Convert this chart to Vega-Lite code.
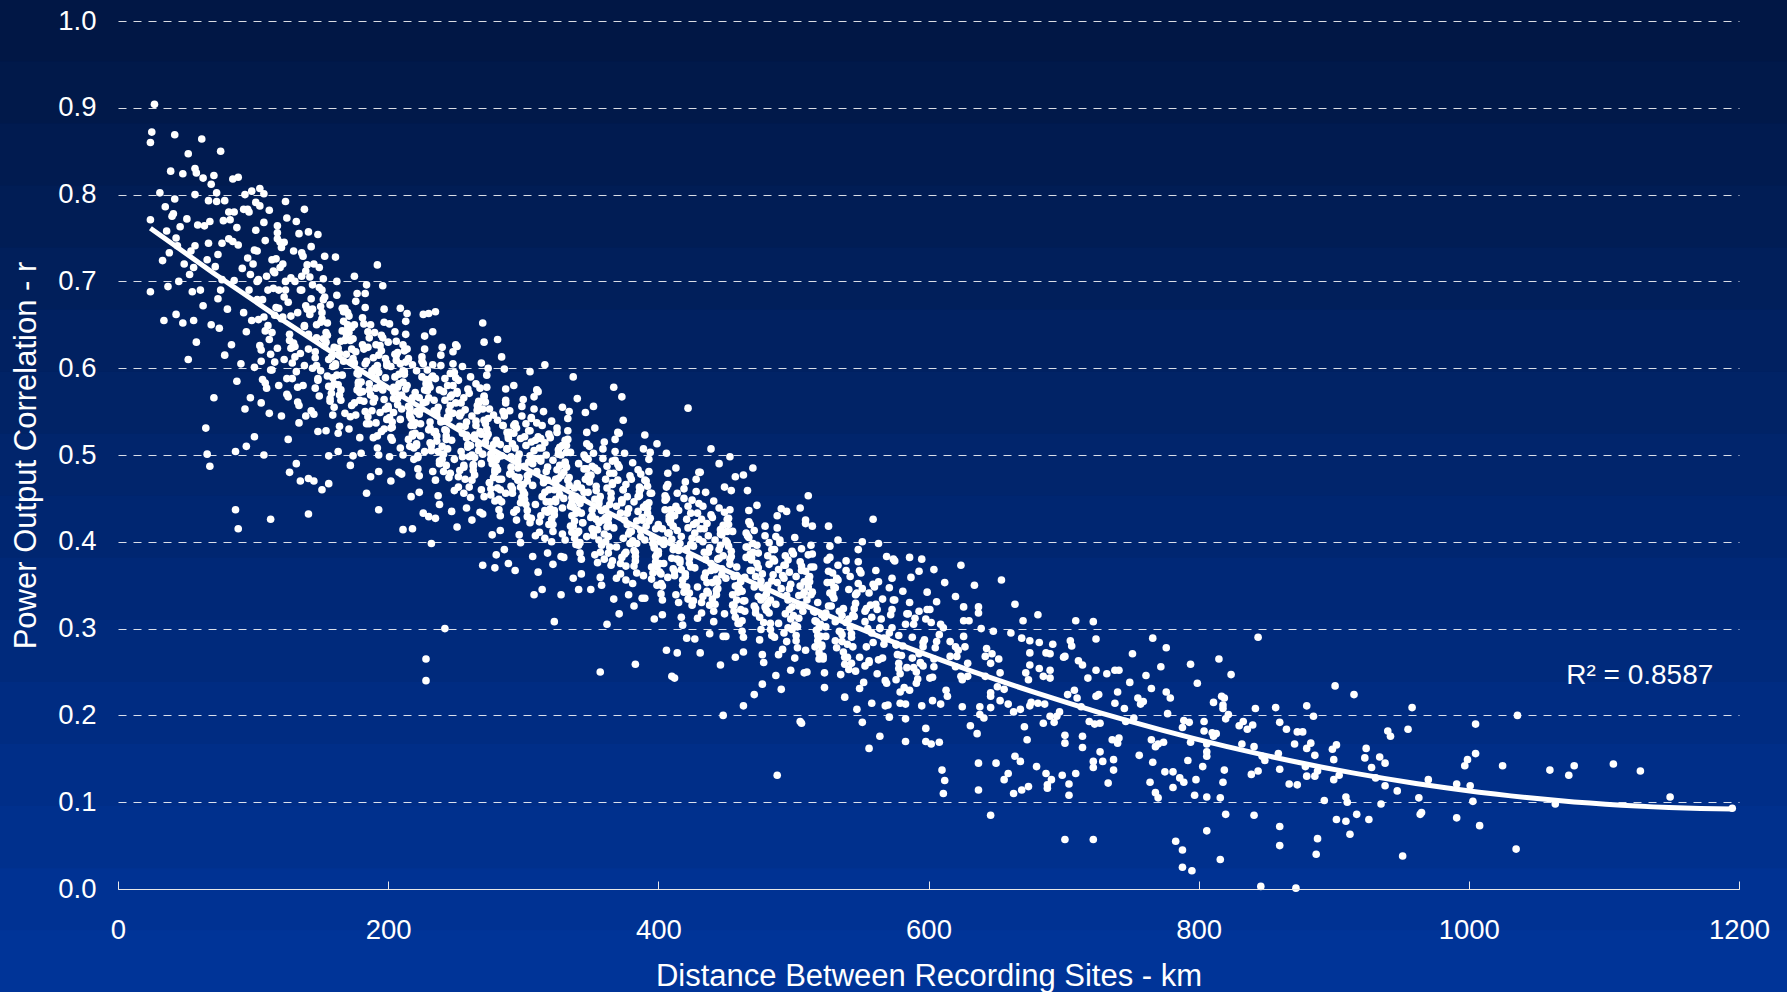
{
"$schema": "https://vega.github.io/schema/vega-lite/v6.json",
"width": 1621,
"height": 868,
"autosize": {"type": "none"},
"padding": {"left": 118, "top": 21, "right": 48, "bottom": 103},
"background": "#00276f",
"config": {"view": {"stroke": null}, "font": "Liberation Sans"},
"data": {"values": [
{"km":24,"r":0.86},{"km":25,"r":0.872},{"km":27,"r":0.904},{"km":24,"r":0.771},{"km":24,"r":0.688},
{"km":31,"r":0.802},{"km":33,"r":0.724},{"km":35,"r":0.786},{"km":36,"r":0.758},{"km":37,"r":0.694},{"km":38,"r":0.733},{"km":39,"r":0.827},{"km":34,"r":0.655},
{"km":42,"r":0.869},{"km":42,"r":0.795},{"km":41,"r":0.778},{"km":40,"r":0.775},{"km":43,"r":0.75},{"km":44,"r":0.741},{"km":46,"r":0.763},{"km":48,"r":0.824},{"km":49,"r":0.72},{"km":43,"r":0.662},{"km":48,"r":0.652},{"km":45,"r":0.7},
{"km":52,"r":0.847},{"km":57,"r":0.83},{"km":58,"r":0.825},{"km":57,"r":0.8},{"km":57,"r":0.741},{"km":56,"r":0.655},{"km":58,"r":0.63},{"km":53,"r":0.708},{"km":55,"r":0.688},{"km":51,"r":0.772},{"km":54,"r":0.735},{"km":59,"r":0.765},{"km":52,"r":0.61},{"km":56,"r":0.716},
{"km":62,"r":0.864},{"km":63,"r":0.819},{"km":64,"r":0.764},{"km":67,"r":0.793},{"km":68,"r":0.769},{"km":69,"r":0.812},{"km":67,"r":0.744},{"km":65,"r":0.531},{"km":66,"r":0.501},{"km":68,"r":0.487},{"km":61,"r":0.69},{"km":63,"r":0.672},{"km":66,"r":0.725},{"km":69,"r":0.65},
{"km":71,"r":0.822},{"km":73,"r":0.802},{"km":73,"r":0.792},{"km":76,"r":0.85},{"km":77,"r":0.744},{"km":79,"r":0.793},{"km":78,"r":0.77},{"km":72,"r":0.717},{"km":74,"r":0.68},{"km":75,"r":0.646},{"km":77,"r":0.702},{"km":79,"r":0.615},{"km":71,"r":0.566},{"km":76,"r":0.69},{"km":74,"r":0.731},
{"km":82,"r":0.749},{"km":82,"r":0.78},{"km":83,"r":0.771},{"km":85,"r":0.746},{"km":85,"r":0.818},{"km":86,"r":0.78},{"km":88,"r":0.762},{"km":89,"r":0.82},{"km":89,"r":0.742},{"km":87,"r":0.504},{"km":87,"r":0.437},{"km":89,"r":0.415},{"km":81,"r":0.668},{"km":84,"r":0.627},{"km":86,"r":0.701},{"km":88,"r":0.585},
{"km":93,"r":0.783},{"km":94,"r":0.8},{"km":96,"r":0.783},{"km":97,"r":0.78},{"km":99,"r":0.804},{"km":95,"r":0.51},{"km":92,"r":0.715},{"km":93,"r":0.664},{"km":95,"r":0.642},{"km":97,"r":0.69},{"km":98,"r":0.566},{"km":91,"r":0.605},{"km":96,"r":0.727},{"km":99,"r":0.655},{"km":94,"r":0.553},{"km":98,"r":0.708},
{"km":102,"r":0.791},{"km":105,"r":0.787},{"km":105,"r":0.807},{"km":108,"r":0.801},{"km":108,"r":0.768},{"km":109,"r":0.747},{"km":101,"r":0.521},{"km":108,"r":0.5},{"km":103,"r":0.7},{"km":104,"r":0.656},{"km":106,"r":0.621},{"km":107,"r":0.679},{"km":101,"r":0.601},{"km":109,"r":0.583},{"km":103,"r":0.735},{"km":106,"r":0.56},{"km":110,"r":0.706},
{"km":112,"r":0.782},{"km":113,"r":0.426},{"km":118,"r":0.764},{"km":118,"r":0.756},{"km":120,"r":0.745},{"km":111,"r":0.69},{"km":114,"r":0.641},{"km":115,"r":0.712},{"km":116,"r":0.607},{"km":117,"r":0.67},{"km":119,"r":0.58},{"km":112,"r":0.548},{"km":114,"r":0.725},{"km":116,"r":0.661},{"km":118,"r":0.623},{"km":113,"r":0.598},{"km":119,"r":0.69},
{"km":124,"r":0.792},{"km":125,"r":0.773},{"km":122,"r":0.72},{"km":127,"r":0.48},{"km":128,"r":0.704},{"km":121,"r":0.657},{"km":123,"r":0.61},{"km":126,"r":0.676},{"km":127,"r":0.632},{"km":129,"r":0.588},{"km":121,"r":0.545},{"km":124,"r":0.69},{"km":125,"r":0.57},{"km":128,"r":0.66},{"km":130,"r":0.735},{"km":126,"r":0.518},{"km":123,"r":0.745},{"km":129,"r":0.624},
{"km":132,"r":0.769},{"km":134,"r":0.755},{"km":134,"r":0.537},{"km":132,"r":0.49},{"km":131,"r":0.7},{"km":133,"r":0.664},{"km":135,"r":0.617},{"km":136,"r":0.69},{"km":137,"r":0.58},{"km":138,"r":0.648},{"km":139,"r":0.712},{"km":131,"r":0.625},{"km":133,"r":0.561},{"km":136,"r":0.733},{"km":138,"r":0.603},{"km":140,"r":0.668},{"km":135,"r":0.47},{"km":139,"r":0.545},{"km":138,"r":0.783},
{"km":141,"r":0.432},{"km":141,"r":0.473},{"km":145,"r":0.47},{"km":142,"r":0.705},{"km":143,"r":0.74},{"km":144,"r":0.668},{"km":146,"r":0.612},{"km":147,"r":0.65},{"km":148,"r":0.588},{"km":149,"r":0.693},{"km":141,"r":0.622},{"km":143,"r":0.551},{"km":145,"r":0.72},{"km":146,"r":0.577},{"km":147,"r":0.635},{"km":148,"r":0.527},{"km":150,"r":0.671},{"km":144,"r":0.6},{"km":149,"r":0.716},{"km":141,"r":0.757},{"km":148,"r":0.754},
{"km":152,"r":0.634},{"km":158,"r":0.578},{"km":151,"r":0.69},{"km":156,"r":0.61},{"km":153,"r":0.729},{"km":159,"r":0.546},{"km":155,"r":0.652},{"km":150,"r":0.597},{"km":157,"r":0.673},{"km":154,"r":0.528},{"km":160,"r":0.624},{"km":152,"r":0.703},{"km":157,"r":0.562},{"km":151,"r":0.657},{"km":159,"r":0.589},{"km":155,"r":0.638},{"km":156,"r":0.499},{"km":153,"r":0.682},{"km":158,"r":0.571},{"km":154,"r":0.63},{"km":151,"r":0.46},{"km":156,"r":0.467},
{"km":161,"r":0.605},{"km":167,"r":0.665},{"km":163,"r":0.525},{"km":169,"r":0.635},{"km":165,"r":0.575},{"km":162,"r":0.7},{"km":168,"r":0.548},{"km":164,"r":0.617},{"km":170,"r":0.65},{"km":166,"r":0.592},{"km":161,"r":0.728},{"km":163,"r":0.504},{"km":168,"r":0.632},{"km":165,"r":0.563},{"km":162,"r":0.684},{"km":167,"r":0.608},{"km":169,"r":0.64},{"km":164,"r":0.533},{"km":166,"r":0.669},{"km":160,"r":0.582},{"km":163,"r":0.623},
{"km":172,"r":0.632},{"km":178,"r":0.584},{"km":175,"r":0.606},{"km":171,"r":0.53},{"km":177,"r":0.686},{"km":173,"r":0.647},{"km":179,"r":0.563},{"km":174,"r":0.499},{"km":176,"r":0.619},{"km":170,"r":0.664},{"km":178,"r":0.593},{"km":172,"r":0.544},{"km":175,"r":0.706},{"km":177,"r":0.575},{"km":171,"r":0.641},{"km":179,"r":0.52},{"km":174,"r":0.611},{"km":173,"r":0.557},{"km":176,"r":0.677},{"km":178,"r":0.58},{"km":172,"r":0.488},{"km":175,"r":0.65},
{"km":183,"r":0.605},{"km":188,"r":0.551},{"km":181,"r":0.658},{"km":186,"r":0.582},{"km":184,"r":0.696},{"km":189,"r":0.52},{"km":182,"r":0.622},{"km":187,"r":0.569},{"km":185,"r":0.642},{"km":180,"r":0.502},{"km":188,"r":0.594},{"km":183,"r":0.67},{"km":186,"r":0.536},{"km":181,"r":0.627},{"km":189,"r":0.561},{"km":184,"r":0.608},{"km":187,"r":0.475},{"km":182,"r":0.651},{"km":185,"r":0.544},{"km":190,"r":0.6},{"km":183,"r":0.686},{"km":186,"r":0.575},{"km":184,"r":0.456},{"km":193,"r":0.437},{"km":192,"r":0.719},
{"km":191,"r":0.577},{"km":196,"r":0.635},{"km":193,"r":0.5},{"km":199,"r":0.606},{"km":194,"r":0.549},{"km":197,"r":0.668},{"km":192,"r":0.522},{"km":198,"r":0.589},{"km":195,"r":0.62},{"km":190,"r":0.565},{"km":196,"r":0.695},{"km":193,"r":0.481},{"km":199,"r":0.603},{"km":191,"r":0.537},{"km":197,"r":0.653},{"km":194,"r":0.58},{"km":198,"r":0.611},{"km":192,"r":0.508},{"km":195,"r":0.638},{"km":200,"r":0.556},{"km":193,"r":0.595},{"km":197,"r":0.53},{"km":191,"r":0.627},
{"km":202,"r":0.602},{"km":207,"r":0.558},{"km":204,"r":0.578},{"km":209,"r":0.508},{"km":201,"r":0.651},{"km":206,"r":0.615},{"km":203,"r":0.538},{"km":208,"r":0.48},{"km":205,"r":0.59},{"km":200,"r":0.63},{"km":207,"r":0.565},{"km":202,"r":0.52},{"km":209,"r":0.669},{"km":204,"r":0.549},{"km":206,"r":0.609},{"km":201,"r":0.498},{"km":208,"r":0.582},{"km":203,"r":0.532},{"km":205,"r":0.642},{"km":210,"r":0.553},{"km":202,"r":0.47},{"km":207,"r":0.618},{"km":204,"r":0.573},{"km":209,"r":0.541},
{"km":213,"r":0.576},{"km":218,"r":0.524},{"km":211,"r":0.627},{"km":216,"r":0.554},{"km":214,"r":0.663},{"km":219,"r":0.495},{"km":212,"r":0.593},{"km":217,"r":0.542},{"km":215,"r":0.611},{"km":210,"r":0.478},{"km":218,"r":0.566},{"km":213,"r":0.639},{"km":216,"r":0.51},{"km":211,"r":0.597},{"km":219,"r":0.534},{"km":214,"r":0.58},{"km":217,"r":0.452},{"km":212,"r":0.62},{"km":215,"r":0.518},{"km":220,"r":0.572},{"km":213,"r":0.654},{"km":216,"r":0.548},{"km":211,"r":0.5},{"km":218,"r":0.604},{"km":211,"r":0.414},{"km":218,"r":0.415},
{"km":221,"r":0.55},{"km":226,"r":0.605},{"km":223,"r":0.476},{"km":229,"r":0.577},{"km":224,"r":0.522},{"km":227,"r":0.637},{"km":222,"r":0.497},{"km":228,"r":0.561},{"km":225,"r":0.59},{"km":220,"r":0.537},{"km":226,"r":0.662},{"km":223,"r":0.457},{"km":229,"r":0.574},{"km":221,"r":0.511},{"km":227,"r":0.622},{"km":224,"r":0.552},{"km":228,"r":0.582},{"km":222,"r":0.484},{"km":225,"r":0.608},{"km":230,"r":0.529},{"km":223,"r":0.566},{"km":227,"r":0.504},{"km":221,"r":0.597},{"km":226,"r":0.433},{"km":228,"r":0.265},{"km":228,"r":0.24},{"km":230,"r":0.429},{"km":232,"r":0.398},{"km":230,"r":0.663},
{"km":231,"r":0.514},{"km":236,"r":0.546},{"km":233,"r":0.591},{"km":238,"r":0.443},{"km":234,"r":0.526},{"km":239,"r":0.615},{"km":232,"r":0.505},{"km":237,"r":0.555},{"km":235,"r":0.471},{"km":230,"r":0.582},{"km":236,"r":0.522},{"km":233,"r":0.642},{"km":238,"r":0.493},{"km":231,"r":0.538},{"km":239,"r":0.603},{"km":234,"r":0.563},{"km":237,"r":0.453},{"km":232,"r":0.511},{"km":235,"r":0.588},{"km":240,"r":0.624},{"km":233,"r":0.481},{"km":236,"r":0.551},{"km":231,"r":0.531},{"km":238,"r":0.575},{"km":235,"r":0.665},{"km":235,"r":0.427},
{"km":241,"r":0.573},{"km":246,"r":0.479},{"km":243,"r":0.522},{"km":248,"r":0.619},{"km":244,"r":0.544},{"km":249,"r":0.495},{"km":242,"r":0.588},{"km":247,"r":0.435},{"km":245,"r":0.551},{"km":240,"r":0.51},{"km":246,"r":0.567},{"km":243,"r":0.488},{"km":248,"r":0.605},{"km":241,"r":0.539},{"km":249,"r":0.459},{"km":244,"r":0.58},{"km":247,"r":0.517},{"km":242,"r":0.563},{"km":245,"r":0.474},{"km":250,"r":0.627},{"km":243,"r":0.528},{"km":246,"r":0.594},{"km":241,"r":0.501},{"km":248,"r":0.548},{"km":242,"r":0.3},
{"km":251,"r":0.417},{"km":256,"r":0.566},{"km":253,"r":0.482},{"km":258,"r":0.538},{"km":254,"r":0.504},{"km":259,"r":0.576},{"km":252,"r":0.463},{"km":257,"r":0.552},{"km":255,"r":0.525},{"km":250,"r":0.589},{"km":256,"r":0.488},{"km":253,"r":0.545},{"km":258,"r":0.439},{"km":251,"r":0.625},{"km":259,"r":0.512},{"km":254,"r":0.56},{"km":257,"r":0.533},{"km":252,"r":0.475},{"km":255,"r":0.602},{"km":260,"r":0.498},{"km":253,"r":0.548},{"km":256,"r":0.456},{"km":251,"r":0.573},{"km":258,"r":0.523},
{"km":262,"r":0.545},{"km":267,"r":0.505},{"km":264,"r":0.523},{"km":269,"r":0.46},{"km":261,"r":0.59},{"km":266,"r":0.557},{"km":263,"r":0.487},{"km":268,"r":0.434},{"km":265,"r":0.534},{"km":260,"r":0.571},{"km":267,"r":0.512},{"km":262,"r":0.471},{"km":269,"r":0.606},{"km":264,"r":0.497},{"km":266,"r":0.552},{"km":261,"r":0.451},{"km":268,"r":0.527},{"km":263,"r":0.482},{"km":265,"r":0.582},{"km":270,"r":0.501},{"km":262,"r":0.425},{"km":267,"r":0.56},{"km":264,"r":0.519},{"km":269,"r":0.49},{"km":270,"r":0.652},{"km":271,"r":0.63},{"km":270,"r":0.373},
{"km":273,"r":0.521},{"km":278,"r":0.474},{"km":271,"r":0.567},{"km":276,"r":0.501},{"km":274,"r":0.6},{"km":279,"r":0.447},{"km":272,"r":0.536},{"km":277,"r":0.49},{"km":275,"r":0.553},{"km":270,"r":0.432},{"km":278,"r":0.512},{"km":273,"r":0.578},{"km":276,"r":0.461},{"km":271,"r":0.54},{"km":279,"r":0.483},{"km":274,"r":0.524},{"km":277,"r":0.408},{"km":272,"r":0.561},{"km":275,"r":0.468},{"km":280,"r":0.517},{"km":273,"r":0.592},{"km":276,"r":0.495},{"km":271,"r":0.452},{"km":278,"r":0.546},{"km":279,"r":0.37},{"km":280,"r":0.385},
{"km":281,"r":0.497},{"km":286,"r":0.547},{"km":283,"r":0.43},{"km":289,"r":0.522},{"km":284,"r":0.472},{"km":287,"r":0.576},{"km":282,"r":0.449},{"km":288,"r":0.507},{"km":285,"r":0.534},{"km":280,"r":0.486},{"km":286,"r":0.599},{"km":283,"r":0.413},{"km":289,"r":0.519},{"km":281,"r":0.462},{"km":287,"r":0.563},{"km":284,"r":0.499},{"km":288,"r":0.526},{"km":282,"r":0.437},{"km":285,"r":0.55},{"km":290,"r":0.478},{"km":283,"r":0.512},{"km":287,"r":0.456},{"km":281,"r":0.54},{"km":286,"r":0.391},{"km":281,"r":0.633},{"km":284,"r":0.613},{"km":289,"r":0.375},
{"km":291,"r":0.464},{"km":296,"r":0.493},{"km":293,"r":0.534},{"km":298,"r":0.399},{"km":294,"r":0.475},{"km":299,"r":0.556},{"km":292,"r":0.456},{"km":297,"r":0.501},{"km":295,"r":0.425},{"km":290,"r":0.526},{"km":296,"r":0.471},{"km":293,"r":0.58},{"km":298,"r":0.445},{"km":291,"r":0.486},{"km":299,"r":0.545},{"km":294,"r":0.508},{"km":297,"r":0.408},{"km":292,"r":0.461},{"km":295,"r":0.531},{"km":300,"r":0.564},{"km":293,"r":0.434},{"km":296,"r":0.497},{"km":291,"r":0.479},{"km":298,"r":0.519},{"km":294,"r":0.367},
{"km":301,"r":0.521},{"km":306,"r":0.427},{"km":303,"r":0.47},{"km":308,"r":0.567},{"km":304,"r":0.492},{"km":309,"r":0.443},{"km":302,"r":0.536},{"km":307,"r":0.383},{"km":305,"r":0.499},{"km":300,"r":0.458},{"km":306,"r":0.515},{"km":303,"r":0.436},{"km":308,"r":0.553},{"km":301,"r":0.487},{"km":309,"r":0.407},{"km":304,"r":0.528},{"km":307,"r":0.465},{"km":302,"r":0.511},{"km":305,"r":0.422},{"km":310,"r":0.575},{"km":303,"r":0.476},{"km":306,"r":0.542},{"km":301,"r":0.449},{"km":308,"r":0.496},{"km":305,"r":0.596},{"km":308,"r":0.339},
{"km":311,"r":0.365},{"km":316,"r":0.514},{"km":313,"r":0.43},{"km":318,"r":0.486},{"km":314,"r":0.452},{"km":319,"r":0.524},{"km":312,"r":0.411},{"km":317,"r":0.5},{"km":315,"r":0.473},{"km":310,"r":0.537},{"km":316,"r":0.436},{"km":313,"r":0.493},{"km":318,"r":0.387},{"km":311,"r":0.573},{"km":319,"r":0.46},{"km":314,"r":0.508},{"km":317,"r":0.481},{"km":312,"r":0.423},{"km":315,"r":0.55},{"km":320,"r":0.446},{"km":313,"r":0.496},{"km":316,"r":0.404},{"km":311,"r":0.521},{"km":318,"r":0.471},{"km":316,"r":0.604},{"km":314,"r":0.345},
{"km":322,"r":0.494},{"km":327,"r":0.454},{"km":324,"r":0.472},{"km":329,"r":0.409},{"km":321,"r":0.539},{"km":326,"r":0.506},{"km":323,"r":0.436},{"km":328,"r":0.383},{"km":325,"r":0.483},{"km":320,"r":0.52},{"km":327,"r":0.461},{"km":322,"r":0.42},{"km":329,"r":0.555},{"km":324,"r":0.446},{"km":326,"r":0.501},{"km":321,"r":0.4},{"km":328,"r":0.476},{"km":323,"r":0.431},{"km":325,"r":0.531},{"km":330,"r":0.45},{"km":322,"r":0.374},{"km":327,"r":0.509},{"km":324,"r":0.468},{"km":329,"r":0.439},{"km":323,"r":0.308},{"km":328,"r":0.339},
{"km":333,"r":0.471},{"km":338,"r":0.424},{"km":331,"r":0.517},{"km":336,"r":0.451},{"km":334,"r":0.55},{"km":339,"r":0.397},{"km":332,"r":0.486},{"km":337,"r":0.44},{"km":335,"r":0.503},{"km":330,"r":0.382},{"km":338,"r":0.462},{"km":333,"r":0.528},{"km":336,"r":0.411},{"km":331,"r":0.49},{"km":339,"r":0.433},{"km":334,"r":0.474},{"km":337,"r":0.358},{"km":332,"r":0.511},{"km":335,"r":0.418},{"km":340,"r":0.467},{"km":333,"r":0.542},{"km":336,"r":0.445},{"km":331,"r":0.402},{"km":337,"r":0.59},{"km":340,"r":0.565},{"km":341,"r":0.345},
{"km":341,"r":0.447},{"km":346,"r":0.497},{"km":343,"r":0.38},{"km":349,"r":0.472},{"km":344,"r":0.422},{"km":347,"r":0.526},{"km":342,"r":0.399},{"km":348,"r":0.457},{"km":345,"r":0.484},{"km":340,"r":0.436},{"km":346,"r":0.549},{"km":343,"r":0.363},{"km":349,"r":0.469},{"km":341,"r":0.412},{"km":347,"r":0.513},{"km":344,"r":0.449},{"km":348,"r":0.476},{"km":342,"r":0.387},{"km":345,"r":0.5},{"km":350,"r":0.428},{"km":343,"r":0.462},{"km":347,"r":0.406},{"km":341,"r":0.49},{"km":350,"r":0.345},
{"km":351,"r":0.415},{"km":356,"r":0.444},{"km":353,"r":0.485},{"km":358,"r":0.35},{"km":354,"r":0.426},{"km":359,"r":0.507},{"km":352,"r":0.407},{"km":357,"r":0.452},{"km":355,"r":0.376},{"km":350,"r":0.477},{"km":356,"r":0.422},{"km":353,"r":0.531},{"km":358,"r":0.396},{"km":351,"r":0.437},{"km":359,"r":0.496},{"km":354,"r":0.459},{"km":357,"r":0.359},{"km":352,"r":0.412},{"km":355,"r":0.482},{"km":360,"r":0.515},{"km":353,"r":0.385},{"km":356,"r":0.448},{"km":351,"r":0.43},{"km":352,"r":0.556},{"km":357,"r":0.25},
{"km":361,"r":0.472},{"km":366,"r":0.378},{"km":363,"r":0.421},{"km":368,"r":0.518},{"km":364,"r":0.443},{"km":369,"r":0.394},{"km":362,"r":0.487},{"km":367,"r":0.334},{"km":365,"r":0.45},{"km":360,"r":0.409},{"km":366,"r":0.466},{"km":363,"r":0.387},{"km":368,"r":0.504},{"km":361,"r":0.438},{"km":369,"r":0.358},{"km":364,"r":0.479},{"km":367,"r":0.416},{"km":362,"r":0.462},{"km":365,"r":0.373},{"km":370,"r":0.526},{"km":363,"r":0.427},{"km":366,"r":0.493},{"km":361,"r":0.4},{"km":367,"r":0.578},{"km":362,"r":0.305},
{"km":371,"r":0.317},{"km":376,"r":0.466},{"km":373,"r":0.382},{"km":378,"r":0.438},{"km":374,"r":0.404},{"km":379,"r":0.476},{"km":372,"r":0.363},{"km":377,"r":0.452},{"km":375,"r":0.425},{"km":370,"r":0.489},{"km":376,"r":0.388},{"km":373,"r":0.445},{"km":378,"r":0.339},{"km":371,"r":0.525},{"km":379,"r":0.412},{"km":374,"r":0.46},{"km":377,"r":0.433},{"km":372,"r":0.375},{"km":375,"r":0.502},{"km":380,"r":0.398},{"km":373,"r":0.448},{"km":376,"r":0.356},{"km":373,"r":0.567},{"km":374,"r":0.54},
{"km":382,"r":0.446},{"km":387,"r":0.406},{"km":384,"r":0.424},{"km":389,"r":0.361},{"km":381,"r":0.491},{"km":386,"r":0.458},{"km":383,"r":0.388},{"km":388,"r":0.335},{"km":385,"r":0.435},{"km":380,"r":0.472},{"km":387,"r":0.413},{"km":382,"r":0.372},{"km":389,"r":0.507},{"km":384,"r":0.398},{"km":386,"r":0.453},{"km":381,"r":0.352},{"km":388,"r":0.428},{"km":383,"r":0.383},{"km":385,"r":0.483},{"km":390,"r":0.402},{"km":382,"r":0.326},{"km":387,"r":0.461},{"km":383,"r":0.259},{"km":390,"r":0.523},
{"km":393,"r":0.424},{"km":398,"r":0.377},{"km":391,"r":0.47},{"km":396,"r":0.404},{"km":394,"r":0.503},{"km":399,"r":0.35},{"km":392,"r":0.439},{"km":397,"r":0.393},{"km":395,"r":0.456},{"km":390,"r":0.335},{"km":398,"r":0.415},{"km":393,"r":0.481},{"km":396,"r":0.364},{"km":391,"r":0.443},{"km":399,"r":0.386},{"km":394,"r":0.427},{"km":397,"r":0.311},{"km":392,"r":0.464},{"km":395,"r":0.371},{"km":400,"r":0.42},{"km":393,"r":0.495},{"km":396,"r":0.398},{"km":399,"r":0.513},
{"km":401,"r":0.4},{"km":406,"r":0.45},{"km":403,"r":0.333},{"km":409,"r":0.425},{"km":404,"r":0.375},{"km":407,"r":0.479},{"km":402,"r":0.352},{"km":408,"r":0.41},{"km":405,"r":0.437},{"km":400,"r":0.389},{"km":406,"r":0.502},{"km":403,"r":0.316},{"km":409,"r":0.422},{"km":401,"r":0.365},{"km":407,"r":0.466},{"km":404,"r":0.402},{"km":408,"r":0.429},{"km":402,"r":0.34},{"km":405,"r":0.453},{"km":410,"r":0.381},{"km":403,"r":0.415},{"km":407,"r":0.359},{"km":406,"r":0.275},{"km":410,"r":0.245},
{"km":411,"r":0.369},{"km":416,"r":0.398},{"km":413,"r":0.439},{"km":418,"r":0.304},{"km":414,"r":0.38},{"km":419,"r":0.461},{"km":412,"r":0.361},{"km":417,"r":0.406},{"km":415,"r":0.33},{"km":410,"r":0.431},{"km":416,"r":0.376},{"km":413,"r":0.485},{"km":418,"r":0.35},{"km":411,"r":0.391},{"km":419,"r":0.45},{"km":414,"r":0.413},{"km":417,"r":0.313},{"km":412,"r":0.366},{"km":415,"r":0.436},{"km":420,"r":0.469},{"km":413,"r":0.339},{"km":412,"r":0.243},{"km":414,"r":0.272},
{"km":421,"r":0.426},{"km":426,"r":0.332},{"km":423,"r":0.375},{"km":428,"r":0.472},{"km":424,"r":0.397},{"km":429,"r":0.348},{"km":422,"r":0.441},{"km":427,"r":0.288},{"km":425,"r":0.404},{"km":420,"r":0.363},{"km":426,"r":0.42},{"km":423,"r":0.341},{"km":428,"r":0.458},{"km":421,"r":0.392},{"km":429,"r":0.312},{"km":424,"r":0.433},{"km":427,"r":0.37},{"km":422,"r":0.416},{"km":425,"r":0.327},{"km":430,"r":0.48},{"km":423,"r":0.381},{"km":422,"r":0.554},{"km":421,"r":0.289},
{"km":431,"r":0.272},{"km":436,"r":0.421},{"km":433,"r":0.337},{"km":438,"r":0.393},{"km":434,"r":0.359},{"km":439,"r":0.431},{"km":432,"r":0.318},{"km":437,"r":0.407},{"km":435,"r":0.38},{"km":430,"r":0.444},{"km":436,"r":0.343},{"km":433,"r":0.4},{"km":438,"r":0.294},{"km":431,"r":0.48},{"km":439,"r":0.367},{"km":434,"r":0.415},{"km":437,"r":0.388},{"km":432,"r":0.33},{"km":435,"r":0.457},{"km":440,"r":0.353},{"km":439,"r":0.507},
{"km":442,"r":0.402},{"km":447,"r":0.362},{"km":444,"r":0.38},{"km":449,"r":0.317},{"km":441,"r":0.447},{"km":446,"r":0.414},{"km":443,"r":0.344},{"km":448,"r":0.291},{"km":445,"r":0.391},{"km":440,"r":0.428},{"km":447,"r":0.369},{"km":442,"r":0.328},{"km":449,"r":0.463},{"km":444,"r":0.354},{"km":446,"r":0.409},{"km":441,"r":0.308},{"km":448,"r":0.384},{"km":443,"r":0.339},{"km":445,"r":0.439},{"km":450,"r":0.358},{"km":445,"r":0.49},{"km":446,"r":0.258},{"km":448,"r":0.2},
{"km":453,"r":0.38},{"km":458,"r":0.333},{"km":451,"r":0.426},{"km":456,"r":0.36},{"km":454,"r":0.459},{"km":459,"r":0.306},{"km":452,"r":0.395},{"km":457,"r":0.349},{"km":455,"r":0.412},{"km":450,"r":0.291},{"km":458,"r":0.371},{"km":453,"r":0.437},{"km":456,"r":0.32},{"km":451,"r":0.399},{"km":459,"r":0.342},{"km":454,"r":0.383},{"km":457,"r":0.267},{"km":452,"r":0.42},{"km":455,"r":0.327},{"km":453,"r":0.498},{"km":457,"r":0.475},
{"km":461,"r":0.357},{"km":466,"r":0.407},{"km":463,"r":0.29},{"km":469,"r":0.382},{"km":464,"r":0.332},{"km":467,"r":0.436},{"km":462,"r":0.309},{"km":468,"r":0.367},{"km":465,"r":0.394},{"km":460,"r":0.346},{"km":466,"r":0.459},{"km":463,"r":0.273},{"km":469,"r":0.379},{"km":461,"r":0.322},{"km":467,"r":0.423},{"km":464,"r":0.359},{"km":468,"r":0.386},{"km":462,"r":0.297},{"km":465,"r":0.41},{"km":463,"r":0.477},{"km":463,"r":0.211},
{"km":471,"r":0.326},{"km":476,"r":0.355},{"km":473,"r":0.396},{"km":478,"r":0.261},{"km":474,"r":0.337},{"km":479,"r":0.418},{"km":472,"r":0.318},{"km":477,"r":0.363},{"km":475,"r":0.287},{"km":470,"r":0.388},{"km":476,"r":0.333},{"km":473,"r":0.442},{"km":478,"r":0.307},{"km":471,"r":0.348},{"km":479,"r":0.407},{"km":474,"r":0.37},{"km":477,"r":0.27},{"km":472,"r":0.323},{"km":470,"r":0.485},{"km":471,"r":0.224},{"km":477,"r":0.236},
{"km":481,"r":0.384},{"km":486,"r":0.29},{"km":483,"r":0.333},{"km":488,"r":0.43},{"km":484,"r":0.355},{"km":489,"r":0.306},{"km":482,"r":0.399},{"km":487,"r":0.246},{"km":485,"r":0.362},{"km":480,"r":0.321},{"km":486,"r":0.378},{"km":483,"r":0.299},{"km":488,"r":0.416},{"km":481,"r":0.35},{"km":489,"r":0.27},{"km":484,"r":0.391},{"km":487,"r":0.328},{"km":482,"r":0.374},{"km":488,"r":0.131},
{"km":491,"r":0.23},{"km":496,"r":0.379},{"km":493,"r":0.295},{"km":498,"r":0.351},{"km":494,"r":0.317},{"km":499,"r":0.389},{"km":492,"r":0.276},{"km":497,"r":0.365},{"km":495,"r":0.338},{"km":490,"r":0.402},{"km":496,"r":0.301},{"km":493,"r":0.358},{"km":498,"r":0.252},{"km":491,"r":0.438},{"km":499,"r":0.325},{"km":494,"r":0.373},{"km":497,"r":0.346},{"km":495,"r":0.435},
{"km":502,"r":0.36},{"km":507,"r":0.32},{"km":504,"r":0.338},{"km":509,"r":0.275},{"km":501,"r":0.405},{"km":506,"r":0.372},{"km":503,"r":0.302},{"km":508,"r":0.249},{"km":505,"r":0.349},{"km":500,"r":0.386},{"km":507,"r":0.327},{"km":502,"r":0.286},{"km":509,"r":0.421},{"km":504,"r":0.312},{"km":506,"r":0.367},{"km":501,"r":0.266},{"km":508,"r":0.342},{"km":511,"r":0.453},{"km":505,"r":0.439},{"km":509,"r":0.425},{"km":506,"r":0.191},{"km":505,"r":0.193},
{"km":513,"r":0.339},{"km":518,"r":0.292},{"km":511,"r":0.385},{"km":516,"r":0.319},{"km":514,"r":0.418},{"km":519,"r":0.265},{"km":512,"r":0.354},{"km":517,"r":0.308},{"km":515,"r":0.371},{"km":510,"r":0.25},{"km":518,"r":0.33},{"km":513,"r":0.396},{"km":516,"r":0.279},{"km":511,"r":0.358},{"km":519,"r":0.301},{"km":514,"r":0.342},
{"km":521,"r":0.316},{"km":526,"r":0.366},{"km":523,"r":0.249},{"km":529,"r":0.341},{"km":524,"r":0.291},{"km":527,"r":0.395},{"km":522,"r":0.268},{"km":528,"r":0.326},{"km":525,"r":0.353},{"km":520,"r":0.305},{"km":526,"r":0.418},{"km":523,"r":0.232},{"km":529,"r":0.338},{"km":521,"r":0.281},{"km":527,"r":0.382},{"km":524,"r":0.318},
{"km":531,"r":0.286},{"km":536,"r":0.315},{"km":533,"r":0.356},{"km":538,"r":0.221},{"km":534,"r":0.297},{"km":539,"r":0.378},{"km":532,"r":0.278},{"km":537,"r":0.323},{"km":535,"r":0.247},{"km":530,"r":0.348},{"km":536,"r":0.293},{"km":533,"r":0.402},{"km":538,"r":0.267},{"km":531,"r":0.308},{"km":539,"r":0.367},
{"km":541,"r":0.345},{"km":546,"r":0.251},{"km":543,"r":0.294},{"km":548,"r":0.391},{"km":544,"r":0.316},{"km":549,"r":0.267},{"km":542,"r":0.36},{"km":547,"r":0.207},{"km":545,"r":0.323},{"km":540,"r":0.282},{"km":546,"r":0.339},{"km":543,"r":0.26},{"km":548,"r":0.377},{"km":541,"r":0.311},{"km":549,"r":0.231},
{"km":551,"r":0.192},{"km":556,"r":0.341},{"km":553,"r":0.257},{"km":558,"r":0.313},{"km":554,"r":0.279},{"km":559,"r":0.351},{"km":552,"r":0.238},{"km":557,"r":0.327},{"km":555,"r":0.3},{"km":550,"r":0.364},{"km":556,"r":0.263},{"km":553,"r":0.32},{"km":558,"r":0.214},{"km":551,"r":0.4},{"km":556,"r":0.162},{"km":559,"r":0.426},{"km":563,"r":0.398},
{"km":562,"r":0.322},{"km":567,"r":0.282},{"km":564,"r":0.3},{"km":569,"r":0.237},{"km":561,"r":0.367},{"km":566,"r":0.334},{"km":563,"r":0.264},{"km":568,"r":0.211},{"km":565,"r":0.311},{"km":560,"r":0.348},{"km":567,"r":0.289},{"km":562,"r":0.248},{"km":569,"r":0.383},{"km":564,"r":0.176},{"km":571,"r":0.198},
{"km":573,"r":0.301},{"km":578,"r":0.254},{"km":571,"r":0.347},{"km":576,"r":0.281},{"km":574,"r":0.38},{"km":579,"r":0.227},{"km":572,"r":0.316},{"km":577,"r":0.27},{"km":575,"r":0.333},{"km":570,"r":0.212},{"km":578,"r":0.292},{"km":573,"r":0.358},{"km":576,"r":0.241},{"km":575,"r":0.378},{"km":579,"r":0.214},{"km":583,"r":0.17},
{"km":581,"r":0.28},{"km":586,"r":0.33},{"km":583,"r":0.213},{"km":589,"r":0.305},{"km":584,"r":0.255},{"km":587,"r":0.359},{"km":582,"r":0.232},{"km":588,"r":0.29},{"km":585,"r":0.317},{"km":580,"r":0.269},{"km":586,"r":0.382},{"km":583,"r":0.196},
{"km":591,"r":0.25},{"km":596,"r":0.279},{"km":593,"r":0.32},{"km":598,"r":0.185},{"km":594,"r":0.261},{"km":599,"r":0.342},{"km":592,"r":0.242},{"km":597,"r":0.287},{"km":595,"r":0.211},{"km":590,"r":0.312},{"km":596,"r":0.257},{"km":593,"r":0.366},{"km":595,"r":0.38},{"km":598,"r":0.17},{"km":602,"r":0.167},
{"km":602,"r":0.307},{"km":609,"r":0.213},{"km":604,"r":0.256},{"km":612,"r":0.353},{"km":605,"r":0.278},{"km":613,"r":0.229},{"km":601,"r":0.322},{"km":608,"r":0.169},{"km":606,"r":0.285},{"km":603,"r":0.244},{"km":611,"r":0.301},{"km":614,"r":0.222},{"km":604,"r":0.368},{"km":610,"r":0.137},{"km":612,"r":0.125},{"km":611,"r":0.11},
{"km":624,"r":0.373},{"km":654,"r":0.356},{"km":634,"r":0.35},{"km":620,"r":0.337},{"km":637,"r":0.325},{"km":637,"r":0.318},{"km":626,"r":0.325},{"km":664,"r":0.328},{"km":681,"r":0.316},{"km":626,"r":0.309},{"km":630,"r":0.309},{"km":670,"r":0.309},{"km":709,"r":0.309},{"km":722,"r":0.308},{"km":639,"r":0.3},{"km":648,"r":0.297},{"km":661,"r":0.295},{"km":626,"r":0.291},{"km":627,"r":0.279},{"km":620,"r":0.279},{"km":616,"r":0.285},{"km":622,"r":0.275},{"km":669,"r":0.289},{"km":675,"r":0.286},{"km":682,"r":0.284},{"km":692,"r":0.282},{"km":705,"r":0.286},{"km":706,"r":0.28},{"km":724,"r":0.288},{"km":766,"r":0.289},{"km":776,"r":0.278},{"km":844,"r":0.29},
{"km":643,"r":0.277},{"km":647,"r":0.271},{"km":652,"r":0.265},{"km":675,"r":0.272},{"km":687,"r":0.272},{"km":690,"r":0.271},{"km":700,"r":0.267},{"km":711,"r":0.263},{"km":714,"r":0.258},{"km":751,"r":0.271},{"km":794,"r":0.259},{"km":815,"r":0.265},{"km":824,"r":0.247},{"km":616,"r":0.268},{"km":621,"r":0.268},{"km":629,"r":0.26},{"km":620,"r":0.256},{"km":624,"r":0.245},{"km":629,"r":0.245},{"km":625,"r":0.241},{"km":642,"r":0.268},{"km":646,"r":0.26},{"km":642,"r":0.245},{"km":675,"r":0.258},{"km":682,"r":0.254},{"km":690,"r":0.252},{"km":674,"r":0.241},{"km":685,"r":0.245},{"km":690,"r":0.243},{"km":672,"r":0.249},{"km":653,"r":0.249},{"km":651,"r":0.233},{"km":656,"r":0.23},{"km":646,"r":0.226},{"km":646,"r":0.222},{"km":653,"r":0.217},
{"km":659,"r":0.213},{"km":663,"r":0.204},{"km":668,"r":0.207},{"km":675,"r":0.211},{"km":676,"r":0.215},{"km":681,"r":0.214},{"km":686,"r":0.213},{"km":685,"r":0.191},{"km":690,"r":0.199},{"km":693,"r":0.192},{"km":697,"r":0.204},{"km":695,"r":0.199},{"km":671,"r":0.187},{"km":673,"r":0.172},{"km":664,"r":0.153},{"km":668,"r":0.147},{"km":656,"r":0.126},{"km":659,"r":0.133},{"km":663,"r":0.11},{"km":669,"r":0.114},{"km":674,"r":0.118},{"km":680,"r":0.141},{"km":687,"r":0.133},{"km":688,"r":0.12},{"km":688,"r":0.116},{"km":691,"r":0.126},{"km":625,"r":0.21},{"km":638,"r":0.21},{"km":646,"r":0.209},{"km":631,"r":0.188},{"km":636,"r":0.179},{"km":638,"r":0.201},{"km":641,"r":0.197},{"km":637,"r":0.145},{"km":650,"r":0.145},{"km":637,"r":0.114},{"km":646,"r":0.085},
{"km":701,"r":0.268},{"km":703,"r":0.224},{"km":708,"r":0.229},{"km":710,"r":0.22},{"km":713,"r":0.21},{"km":701,"r":0.177},{"km":701,"r":0.168},{"km":714,"r":0.176},{"km":714,"r":0.163},{"km":704,"r":0.121},{"km":704,"r":0.108},{"km":699,"r":0.131},{"km":709,"r":0.133},{"km":701,"r":0.057},{"km":722,"r":0.057},{"km":718,"r":0.243},{"km":724,"r":0.252},{"km":732,"r":0.248},{"km":738,"r":0.252},{"km":741,"r":0.252},{"km":726,"r":0.224},{"km":724,"r":0.222},{"km":719,"r":0.193},{"km":723,"r":0.19},{"km":727,"r":0.191},{"km":727,"r":0.158},{"km":729,"r":0.147},{"km":722,"r":0.147},{"km":722,"r":0.14},{"km":737,"r":0.149},{"km":737,"r":0.137},{"km":736,"r":0.172},{"km":740,"r":0.168},{"km":741,"r":0.174},{"km":733,"r":0.122},
{"km":745,"r":0.208},{"km":738,"r":0.214},{"km":740,"r":0.227},{"km":749,"r":0.238},{"km":761,"r":0.246},{"km":765,"r":0.231},{"km":755,"r":0.22},{"km":757,"r":0.213},{"km":759,"r":0.216},{"km":752,"r":0.197},{"km":746,"r":0.193},{"km":756,"r":0.154},{"km":765,"r":0.172},{"km":766,"r":0.146},{"km":768,"r":0.164},{"km":770,"r":0.167},{"km":774,"r":0.169},{"km":777,"r":0.202},{"km":776,"r":0.227},{"km":779,"r":0.22},{"km":772,"r":0.256},{"km":764,"r":0.123},{"km":768,"r":0.111},{"km":770,"r":0.105},{"km":775,"r":0.135},{"km":781,"r":0.135},{"km":781,"r":0.117},{"km":786,"r":0.128},{"km":789,"r":0.123},{"km":783,"r":0.055},{"km":788,"r":0.045},{"km":788,"r":0.025},{"km":795,"r":0.021},
{"km":799,"r":0.237},{"km":789,"r":0.194},{"km":793,"r":0.192},{"km":788,"r":0.186},{"km":794,"r":0.169},{"km":792,"r":0.148},{"km":803,"r":0.141},{"km":798,"r":0.126},{"km":797,"r":0.108},{"km":806,"r":0.106},{"km":806,"r":0.067},{"km":804,"r":0.193},{"km":804,"r":0.182},{"km":810,"r":0.18},{"km":813,"r":0.179},{"km":811,"r":0.176},{"km":806,"r":0.167},{"km":806,"r":0.158},{"km":806,"r":0.153},{"km":811,"r":0.215},{"km":817,"r":0.222},{"km":819,"r":0.22},{"km":818,"r":0.212},{"km":818,"r":0.208},{"km":822,"r":0.201},{"km":820,"r":0.196},{"km":816,"r":0.034},{"km":816,"r":0.105},{"km":819,"r":0.137},{"km":818,"r":0.123},{"km":820,"r":0.086},
{"km":830,"r":0.188},{"km":833,"r":0.193},{"km":836,"r":0.184},{"km":840,"r":0.189},{"km":842,"r":0.208},{"km":832,"r":0.167},{"km":841,"r":0.164},{"km":847,"r":0.153},{"km":849,"r":0.148},{"km":844,"r":0.136},{"km":839,"r":0.132},{"km":841,"r":0.085},{"km":846,"r":0.003},{"km":857,"r":0.209},{"km":860,"r":0.192},{"km":865,"r":0.184},{"km":873,"r":0.181},{"km":877,"r":0.181},{"km":885,"r":0.199},{"km":880,"r":0.211},{"km":871,"r":0.167},{"km":883,"r":0.168},{"km":880,"r":0.162},{"km":886,"r":0.154},{"km":879,"r":0.141},{"km":880,"r":0.13},{"km":886,"r":0.13},{"km":888,"r":0.136},{"km":859,"r":0.156},{"km":860,"r":0.138},{"km":867,"r":0.121},{"km":873,"r":0.12},{"km":860,"r":0.072},{"km":860,"r":0.05},{"km":888,"r":0.058},{"km":887,"r":0.04},{"km":872,"r":0.001},{"km":893,"r":0.102},
{"km":901,"r":0.234},{"km":915,"r":0.224},{"km":902,"r":0.166},{"km":899,"r":0.161},{"km":900,"r":0.149},{"km":904,"r":0.131},{"km":900,"r":0.126},{"km":909,"r":0.106},{"km":910,"r":0.1},{"km":902,"r":0.08},{"km":909,"r":0.078},{"km":912,"r":0.063},{"km":917,"r":0.086},{"km":924,"r":0.162},{"km":923,"r":0.151},{"km":928,"r":0.14},{"km":934,"r":0.152},{"km":938,"r":0.145},{"km":931,"r":0.128},{"km":938,"r":0.119},{"km":947,"r":0.113},{"km":935,"r":0.098},{"km":926,"r":0.08},{"km":940,"r":0.182},{"km":942,"r":0.176},{"km":955,"r":0.184},{"km":958,"r":0.209},{"km":963,"r":0.105},{"km":965,"r":0.088},{"km":964,"r":0.086},{"km":951,"r":0.038},{"km":970,"r":0.126},
{"km":1005,"r":0.19},{"km":1005,"r":0.156},{"km":999,"r":0.149},{"km":997,"r":0.142},{"km":1001,"r":0.119},{"km":991,"r":0.121},{"km":991,"r":0.082},{"km":1003,"r":0.101},{"km":1008,"r":0.073},{"km":1025,"r":0.142},{"km":1036,"r":0.2},{"km":1035,"r":0.046},{"km":1060,"r":0.137},{"km":1064,"r":0.098},{"km":1074,"r":0.131},{"km":1078,"r":0.142},{"km":1107,"r":0.144},{"km":1127,"r":0.136},{"km":1149,"r":0.106},{"km":1195,"r":0.093},
{"km":104,"r":0.702},{"km":109,"r":0.643},{"km":101,"r":0.736},{"km":106,"r":0.608},{"km":103,"r":0.679},{"km":108,"r":0.659},{"km":100,"r":0.72},{"km":105,"r":0.626},{"km":102,"r":0.759},{"km":107,"r":0.587},
{"km":114,"r":0.598},{"km":119,"r":0.669},{"km":111,"r":0.649},{"km":116,"r":0.71},{"km":113,"r":0.616},{"km":118,"r":0.749},{"km":110,"r":0.577},{"km":115,"r":0.692},{"km":112,"r":0.633},{"km":117,"r":0.726},
{"km":124,"r":0.7},{"km":129,"r":0.606},{"km":121,"r":0.739},{"km":126,"r":0.567},{"km":123,"r":0.682},{"km":128,"r":0.623},{"km":120,"r":0.716},{"km":125,"r":0.588},{"km":122,"r":0.659},{"km":127,"r":0.639},
{"km":134,"r":0.557},{"km":139,"r":0.672},{"km":131,"r":0.613},{"km":136,"r":0.706},{"km":133,"r":0.578},{"km":138,"r":0.649},{"km":130,"r":0.629},{"km":135,"r":0.69},{"km":132,"r":0.596},{"km":137,"r":0.729},
{"km":144,"r":0.696},{"km":149,"r":0.568},{"km":141,"r":0.639},{"km":146,"r":0.619},{"km":143,"r":0.68},{"km":148,"r":0.586},{"km":140,"r":0.719},{"km":145,"r":0.547},{"km":142,"r":0.662},{"km":147,"r":0.603},
{"km":154,"r":0.641},{"km":159,"r":0.602},{"km":151,"r":0.664},{"km":156,"r":0.579},{"km":153,"r":0.626},{"km":158,"r":0.613},{"km":150,"r":0.653},{"km":155,"r":0.591},{"km":152,"r":0.679},{"km":157,"r":0.565},
{"km":164,"r":0.569},{"km":169,"r":0.616},{"km":161,"r":0.603},{"km":166,"r":0.643},{"km":163,"r":0.581},{"km":168,"r":0.669},{"km":160,"r":0.555},{"km":165,"r":0.631},{"km":162,"r":0.592},{"km":167,"r":0.654},
{"km":174,"r":0.634},{"km":179,"r":0.572},{"km":171,"r":0.66},{"km":176,"r":0.546},{"km":173,"r":0.622},{"km":178,"r":0.583},{"km":170,"r":0.645},{"km":175,"r":0.56},{"km":172,"r":0.607},{"km":177,"r":0.594},
{"km":184,"r":0.536},{"km":189,"r":0.612},{"km":181,"r":0.573},{"km":186,"r":0.635},{"km":183,"r":0.55},{"km":188,"r":0.597},{"km":180,"r":0.584},{"km":185,"r":0.624},{"km":182,"r":0.562},{"km":187,"r":0.65},
{"km":194,"r":0.626},{"km":199,"r":0.541},{"km":191,"r":0.588},{"km":196,"r":0.575},{"km":193,"r":0.615},{"km":198,"r":0.553},{"km":190,"r":0.641},{"km":195,"r":0.527},{"km":192,"r":0.603},{"km":197,"r":0.564},
{"km":204,"r":0.565},{"km":209,"r":0.605},{"km":201,"r":0.543},{"km":206,"r":0.631},{"km":203,"r":0.517},{"km":208,"r":0.593},{"km":200,"r":0.554},{"km":205,"r":0.616},{"km":202,"r":0.531},{"km":207,"r":0.578},
{"km":214,"r":0.622},{"km":219,"r":0.508},{"km":211,"r":0.584},{"km":216,"r":0.545},{"km":213,"r":0.607},{"km":218,"r":0.522},{"km":210,"r":0.569},{"km":215,"r":0.556},{"km":212,"r":0.596},{"km":217,"r":0.534},
{"km":224,"r":0.536},{"km":229,"r":0.598},{"km":221,"r":0.513},{"km":226,"r":0.56},{"km":223,"r":0.547},{"km":228,"r":0.587},{"km":220,"r":0.525},{"km":225,"r":0.613},{"km":222,"r":0.499},{"km":227,"r":0.575},
{"km":234,"r":0.551},{"km":239,"r":0.538},{"km":231,"r":0.578},{"km":236,"r":0.516},{"km":233,"r":0.604},{"km":238,"r":0.49},{"km":230,"r":0.566},{"km":235,"r":0.527},{"km":232,"r":0.589},{"km":237,"r":0.504},
{"km":244,"r":0.507},{"km":249,"r":0.595},{"km":241,"r":0.481},{"km":246,"r":0.557},{"km":243,"r":0.518},{"km":248,"r":0.58},{"km":240,"r":0.495},{"km":245,"r":0.542},{"km":242,"r":0.529},{"km":247,"r":0.569},
{"km":254,"r":0.548},{"km":259,"r":0.509},{"km":251,"r":0.571},{"km":256,"r":0.486},{"km":253,"r":0.533},{"km":258,"r":0.52},{"km":250,"r":0.56},{"km":255,"r":0.498},{"km":252,"r":0.586},{"km":257,"r":0.472},
{"km":264,"r":0.477},{"km":269,"r":0.524},{"km":261,"r":0.511},{"km":266,"r":0.551},{"km":263,"r":0.489},{"km":268,"r":0.577},{"km":260,"r":0.463},{"km":265,"r":0.539},{"km":262,"r":0.5},{"km":267,"r":0.562},
{"km":274,"r":0.542},{"km":279,"r":0.48},{"km":271,"r":0.568},{"km":276,"r":0.454},{"km":273,"r":0.53},{"km":278,"r":0.491},{"km":270,"r":0.553},{"km":275,"r":0.468},{"km":272,"r":0.515},{"km":277,"r":0.502},
{"km":284,"r":0.446},{"km":289,"r":0.522},{"km":281,"r":0.483},{"km":286,"r":0.545},{"km":283,"r":0.46},{"km":288,"r":0.507},{"km":280,"r":0.494},{"km":285,"r":0.534},{"km":282,"r":0.472},{"km":287,"r":0.56},
{"km":294,"r":0.536},{"km":299,"r":0.451},{"km":291,"r":0.498},{"km":296,"r":0.485},{"km":293,"r":0.525},{"km":298,"r":0.463},{"km":290,"r":0.551},{"km":295,"r":0.437},{"km":292,"r":0.513},{"km":297,"r":0.474},
{"km":304,"r":0.477},{"km":309,"r":0.517},{"km":301,"r":0.455},{"km":306,"r":0.543},{"km":303,"r":0.429},{"km":308,"r":0.505},{"km":300,"r":0.466},{"km":305,"r":0.528},{"km":302,"r":0.443},{"km":307,"r":0.49},
{"km":314,"r":0.534},{"km":319,"r":0.42},{"km":311,"r":0.496},{"km":316,"r":0.457},{"km":313,"r":0.519},{"km":318,"r":0.434},{"km":310,"r":0.481},{"km":315,"r":0.468},{"km":312,"r":0.508},{"km":317,"r":0.446},
{"km":324,"r":0.449},{"km":329,"r":0.511},{"km":321,"r":0.426},{"km":326,"r":0.473},{"km":323,"r":0.46},{"km":328,"r":0.5},{"km":320,"r":0.438},{"km":325,"r":0.526},{"km":322,"r":0.412},{"km":327,"r":0.488},
{"km":334,"r":0.465},{"km":339,"r":0.452},{"km":331,"r":0.492},{"km":336,"r":0.43},{"km":333,"r":0.518},{"km":338,"r":0.404},{"km":330,"r":0.48},{"km":335,"r":0.441},{"km":332,"r":0.503},{"km":337,"r":0.418},
{"km":344,"r":0.422},{"km":349,"r":0.51},{"km":341,"r":0.396},{"km":346,"r":0.472},{"km":343,"r":0.433},{"km":348,"r":0.495},{"km":340,"r":0.41},{"km":345,"r":0.457},{"km":342,"r":0.444},{"km":347,"r":0.484},
{"km":354,"r":0.464},{"km":359,"r":0.425},{"km":351,"r":0.487},{"km":356,"r":0.402},{"km":353,"r":0.449},{"km":358,"r":0.436},{"km":350,"r":0.476},{"km":355,"r":0.414},{"km":352,"r":0.502},{"km":357,"r":0.388},
{"km":364,"r":0.394},{"km":369,"r":0.441},{"km":361,"r":0.428},{"km":366,"r":0.468},{"km":363,"r":0.406},{"km":368,"r":0.494},{"km":360,"r":0.38},{"km":365,"r":0.456},{"km":362,"r":0.417},{"km":367,"r":0.479},
{"km":374,"r":0.46},{"km":379,"r":0.398},{"km":371,"r":0.486},{"km":376,"r":0.372},{"km":373,"r":0.448},{"km":378,"r":0.409},{"km":370,"r":0.471},{"km":375,"r":0.386},{"km":372,"r":0.433},{"km":377,"r":0.42},
{"km":384,"r":0.364},{"km":389,"r":0.44},{"km":381,"r":0.401},{"km":386,"r":0.463},{"km":383,"r":0.378},{"km":388,"r":0.425},{"km":380,"r":0.412},{"km":385,"r":0.452},{"km":382,"r":0.39},{"km":387,"r":0.478},
{"km":394,"r":0.456},{"km":399,"r":0.371},{"km":391,"r":0.418},{"km":396,"r":0.405},{"km":393,"r":0.445},{"km":398,"r":0.383},{"km":390,"r":0.471},{"km":395,"r":0.357},{"km":392,"r":0.433},{"km":397,"r":0.394},
{"km":404,"r":0.397},{"km":409,"r":0.437},{"km":401,"r":0.375},{"km":406,"r":0.463},{"km":403,"r":0.349},{"km":408,"r":0.425},{"km":400,"r":0.386},{"km":405,"r":0.448},{"km":402,"r":0.363},{"km":407,"r":0.41},
{"km":414,"r":0.456},{"km":419,"r":0.342},{"km":411,"r":0.418},{"km":416,"r":0.379},{"km":413,"r":0.441},{"km":418,"r":0.356},{"km":410,"r":0.403},{"km":415,"r":0.39},{"km":412,"r":0.43},{"km":417,"r":0.368},
{"km":424,"r":0.371},{"km":429,"r":0.433},{"km":421,"r":0.348},{"km":426,"r":0.395},{"km":423,"r":0.382},{"km":428,"r":0.422},{"km":420,"r":0.36},{"km":425,"r":0.448},{"km":422,"r":0.334},{"km":427,"r":0.41},
{"km":434,"r":0.388},{"km":439,"r":0.375},{"km":431,"r":0.415},{"km":436,"r":0.353},{"km":433,"r":0.441},{"km":438,"r":0.327},{"km":430,"r":0.403},{"km":435,"r":0.364},{"km":432,"r":0.426},{"km":437,"r":0.341},
{"km":444,"r":0.346},{"km":449,"r":0.434},{"km":441,"r":0.32},{"km":446,"r":0.396},{"km":443,"r":0.357},{"km":448,"r":0.419},{"km":440,"r":0.334},{"km":445,"r":0.381},{"km":442,"r":0.368},{"km":447,"r":0.408},
{"km":454,"r":0.389},{"km":459,"r":0.35},{"km":451,"r":0.412},{"km":456,"r":0.327},{"km":453,"r":0.374},{"km":458,"r":0.361},{"km":450,"r":0.401},{"km":455,"r":0.339},{"km":452,"r":0.427},{"km":457,"r":0.313},
{"km":464,"r":0.32},{"km":469,"r":0.367},{"km":461,"r":0.354},{"km":466,"r":0.394},{"km":463,"r":0.332},{"km":468,"r":0.42},{"km":460,"r":0.306},{"km":465,"r":0.382},{"km":462,"r":0.343},{"km":467,"r":0.405},
{"km":474,"r":0.387},{"km":479,"r":0.325},{"km":471,"r":0.413},{"km":476,"r":0.299},{"km":473,"r":0.375},{"km":478,"r":0.336},{"km":470,"r":0.398},{"km":475,"r":0.313},{"km":472,"r":0.36},{"km":477,"r":0.347},
{"km":484,"r":0.292},{"km":489,"r":0.368},{"km":481,"r":0.329},{"km":486,"r":0.391},{"km":483,"r":0.306},{"km":488,"r":0.353},{"km":480,"r":0.34},{"km":485,"r":0.38},{"km":482,"r":0.318},{"km":487,"r":0.406},
{"km":494,"r":0.384},{"km":499,"r":0.299},{"km":491,"r":0.346},{"km":496,"r":0.333},{"km":493,"r":0.373},{"km":498,"r":0.311},{"km":490,"r":0.399},{"km":495,"r":0.285},{"km":492,"r":0.361},{"km":497,"r":0.322},
{"km":504,"r":0.326},{"km":509,"r":0.366},{"km":501,"r":0.304},{"km":506,"r":0.392},{"km":503,"r":0.278},{"km":508,"r":0.354},{"km":500,"r":0.315},{"km":505,"r":0.377},{"km":502,"r":0.292},{"km":507,"r":0.339},
{"km":514,"r":0.386},{"km":519,"r":0.272},{"km":511,"r":0.348},{"km":516,"r":0.309},{"km":513,"r":0.371},{"km":518,"r":0.286},{"km":510,"r":0.333},{"km":515,"r":0.32},{"km":512,"r":0.36},{"km":517,"r":0.298},
{"km":524,"r":0.302},{"km":529,"r":0.364},{"km":521,"r":0.279},{"km":526,"r":0.326},{"km":523,"r":0.313},{"km":528,"r":0.353},{"km":520,"r":0.291},{"km":525,"r":0.379},{"km":522,"r":0.265},{"km":527,"r":0.341},
{"km":534,"r":0.32},{"km":539,"r":0.307},{"km":531,"r":0.347},{"km":536,"r":0.285},{"km":533,"r":0.373},{"km":538,"r":0.259},{"km":530,"r":0.335},{"km":535,"r":0.296},{"km":532,"r":0.358},{"km":537,"r":0.273},
{"km":544,"r":0.279},{"km":549,"r":0.367},{"km":541,"r":0.253},{"km":546,"r":0.329},{"km":543,"r":0.29},{"km":548,"r":0.352},{"km":540,"r":0.267},{"km":545,"r":0.314},{"km":542,"r":0.301},{"km":547,"r":0.341},
{"km":554,"r":0.323},{"km":559,"r":0.284},{"km":551,"r":0.346},{"km":556,"r":0.261},{"km":553,"r":0.308},{"km":558,"r":0.295},
{"km":564,"r":0.301},{"km":569,"r":0.288},{"km":561,"r":0.328},{"km":566,"r":0.266},{"km":563,"r":0.354},{"km":568,"r":0.24},
{"km":574,"r":0.333},{"km":579,"r":0.248},{"km":571,"r":0.295},{"km":576,"r":0.282},{"km":573,"r":0.322},{"km":578,"r":0.26},
{"km":584,"r":0.317},{"km":589,"r":0.255},{"km":581,"r":0.343},{"km":586,"r":0.229},{"km":583,"r":0.305},{"km":588,"r":0.266},
{"km":594,"r":0.26},{"km":599,"r":0.322},{"km":591,"r":0.237},{"km":596,"r":0.284},{"km":593,"r":0.271},{"km":598,"r":0.311},
{"km":604,"r":0.265},{"km":609,"r":0.305},{"km":601,"r":0.243},{"km":606,"r":0.331},{"km":603,"r":0.217},{"km":608,"r":0.293}
]},
"layer": [
  {"transform": [{"aggregate": [{"op": "count", "as": "n"}]}],
   "layer": [
    {"mark": {"type": "rect", "color": "#011745"}, "encoding": {"x": {"datum": -88, "type": "quantitative", "scale": {"domain": [0, 1200], "nice": false}}, "x2": {"datum": 1236}, "y": {"datum": 1.025, "type": "quantitative", "scale": {"domain": [0, 1], "nice": false}}, "y2": {"datum": 0.951}}},
    {"mark": {"type": "rect", "color": "#01194a"}, "encoding": {"x": {"datum": -88, "type": "quantitative", "scale": {"domain": [0, 1200], "nice": false}}, "x2": {"datum": 1236}, "y": {"datum": 0.9535, "type": "quantitative", "scale": {"domain": [0, 1], "nice": false}}, "y2": {"datum": 0.8795}}},
    {"mark": {"type": "rect", "color": "#011b50"}, "encoding": {"x": {"datum": -88, "type": "quantitative", "scale": {"domain": [0, 1200], "nice": false}}, "x2": {"datum": 1236}, "y": {"datum": 0.882, "type": "quantitative", "scale": {"domain": [0, 1], "nice": false}}, "y2": {"datum": 0.808}}},
    {"mark": {"type": "rect", "color": "#011d55"}, "encoding": {"x": {"datum": -88, "type": "quantitative", "scale": {"domain": [0, 1200], "nice": false}}, "x2": {"datum": 1236}, "y": {"datum": 0.8105, "type": "quantitative", "scale": {"domain": [0, 1], "nice": false}}, "y2": {"datum": 0.7365}}},
    {"mark": {"type": "rect", "color": "#011f5b"}, "encoding": {"x": {"datum": -88, "type": "quantitative", "scale": {"domain": [0, 1200], "nice": false}}, "x2": {"datum": 1236}, "y": {"datum": 0.739, "type": "quantitative", "scale": {"domain": [0, 1], "nice": false}}, "y2": {"datum": 0.665}}},
    {"mark": {"type": "rect", "color": "#012161"}, "encoding": {"x": {"datum": -88, "type": "quantitative", "scale": {"domain": [0, 1200], "nice": false}}, "x2": {"datum": 1236}, "y": {"datum": 0.6675, "type": "quantitative", "scale": {"domain": [0, 1], "nice": false}}, "y2": {"datum": 0.5935}}},
    {"mark": {"type": "rect", "color": "#012366"}, "encoding": {"x": {"datum": -88, "type": "quantitative", "scale": {"domain": [0, 1200], "nice": false}}, "x2": {"datum": 1236}, "y": {"datum": 0.596, "type": "quantitative", "scale": {"domain": [0, 1], "nice": false}}, "y2": {"datum": 0.522}}},
    {"mark": {"type": "rect", "color": "#01256c"}, "encoding": {"x": {"datum": -88, "type": "quantitative", "scale": {"domain": [0, 1200], "nice": false}}, "x2": {"datum": 1236}, "y": {"datum": 0.5245, "type": "quantitative", "scale": {"domain": [0, 1], "nice": false}}, "y2": {"datum": 0.4505}}},
    {"mark": {"type": "rect", "color": "#002671"}, "encoding": {"x": {"datum": -88, "type": "quantitative", "scale": {"domain": [0, 1200], "nice": false}}, "x2": {"datum": 1236}, "y": {"datum": 0.453, "type": "quantitative", "scale": {"domain": [0, 1], "nice": false}}, "y2": {"datum": 0.379}}},
    {"mark": {"type": "rect", "color": "#002877"}, "encoding": {"x": {"datum": -88, "type": "quantitative", "scale": {"domain": [0, 1200], "nice": false}}, "x2": {"datum": 1236}, "y": {"datum": 0.3815, "type": "quantitative", "scale": {"domain": [0, 1], "nice": false}}, "y2": {"datum": 0.3075}}},
    {"mark": {"type": "rect", "color": "#002a7c"}, "encoding": {"x": {"datum": -88, "type": "quantitative", "scale": {"domain": [0, 1200], "nice": false}}, "x2": {"datum": 1236}, "y": {"datum": 0.31, "type": "quantitative", "scale": {"domain": [0, 1], "nice": false}}, "y2": {"datum": 0.236}}},
    {"mark": {"type": "rect", "color": "#002c82"}, "encoding": {"x": {"datum": -88, "type": "quantitative", "scale": {"domain": [0, 1200], "nice": false}}, "x2": {"datum": 1236}, "y": {"datum": 0.2385, "type": "quantitative", "scale": {"domain": [0, 1], "nice": false}}, "y2": {"datum": 0.1645}}},
    {"mark": {"type": "rect", "color": "#002e88"}, "encoding": {"x": {"datum": -88, "type": "quantitative", "scale": {"domain": [0, 1200], "nice": false}}, "x2": {"datum": 1236}, "y": {"datum": 0.167, "type": "quantitative", "scale": {"domain": [0, 1], "nice": false}}, "y2": {"datum": 0.093}}},
    {"mark": {"type": "rect", "color": "#00308d"}, "encoding": {"x": {"datum": -88, "type": "quantitative", "scale": {"domain": [0, 1200], "nice": false}}, "x2": {"datum": 1236}, "y": {"datum": 0.0955, "type": "quantitative", "scale": {"domain": [0, 1], "nice": false}}, "y2": {"datum": 0.0215}}},
    {"mark": {"type": "rect", "color": "#003293"}, "encoding": {"x": {"datum": -88, "type": "quantitative", "scale": {"domain": [0, 1200], "nice": false}}, "x2": {"datum": 1236}, "y": {"datum": 0.024, "type": "quantitative", "scale": {"domain": [0, 1], "nice": false}}, "y2": {"datum": -0.05}}},
    {"mark": {"type": "rect", "color": "#003498"}, "encoding": {"x": {"datum": -88, "type": "quantitative", "scale": {"domain": [0, 1200], "nice": false}}, "x2": {"datum": 1236}, "y": {"datum": -0.0475, "type": "quantitative", "scale": {"domain": [0, 1], "nice": false}}, "y2": {"datum": -0.125}}}
   ]},
  {"mark": {"type": "circle", "size": 58, "color": "#ffffff", "opacity": 1},
   "encoding": {
    "x": {"field": "km", "type": "quantitative", "scale": {"domain": [0, 1200], "nice": false},
          "title": "Distance Between Recording Sites - km",
          "axis": {"values": [0, 200, 400, 600, 800, 1000, 1200], "format": "d", "grid": false, "domain": true, "domainColor": "#e8e8e8", "domainWidth": 1.2,
                   "ticks": true, "tickColor": "#e8e8e8", "tickSize": -8, "tickWidth": 1, "labelPadding": 35,
                   "labelFont": "Liberation Sans", "labelFontSize": 27.5, "labelColor": "#ffffff", "labelFlush": false, "labelOverlap": false,
                   "titleFont": "Liberation Sans", "titleFontSize": 31, "titleFontWeight": "normal", "titleColor": "#ffffff", "titlePadding": 18, "zindex": 1}},
    "y": {"field": "r", "type": "quantitative", "scale": {"domain": [0, 1], "nice": false},
          "title": "Power Output Correlation - r",
          "axis": {"values": [0, 0.1, 0.2, 0.3, 0.4, 0.5, 0.6, 0.7, 0.8, 0.9, 1.0], "format": ".1f", "grid": true, "gridColor": "#ffffff", "gridOpacity": 0.85, "gridDash": [8, 7], "gridWidth": 1,
                   "domain": false, "ticks": false, "labelPadding": 22,
                   "labelFont": "Liberation Sans", "labelFontSize": 27.5, "labelColor": "#ffffff", "labelFlush": false, "labelOverlap": false,
                   "titleFont": "Liberation Sans", "titleFontSize": 31, "titleFontWeight": "normal", "titleColor": "#ffffff", "titlePadding": 15, "zindex": 1}}
   }},
  {"transform": [{"regression": "r", "on": "km", "method": "poly", "order": 2}],
   "mark": {"type": "line", "color": "#ffffff", "strokeWidth": 5},
   "encoding": {
    "x": {"field": "km", "type": "quantitative", "scale": {"domain": [0, 1200], "nice": false}, "title": "Distance Between Recording Sites - km"},
    "y": {"field": "r", "type": "quantitative", "scale": {"domain": [0, 1], "nice": false}, "title": "Power Output Correlation - r"}
   }},
  {"transform": [{"aggregate": [{"op": "count", "as": "n"}]}],
   "mark": {"type": "text", "text": "R² = 0.8587", "align": "right", "baseline": "alphabetic", "font": "Liberation Sans", "fontSize": 28, "color": "#ffffff"},
   "encoding": {"x": {"datum": 1181, "type": "quantitative"}, "y": {"datum": 0.236, "type": "quantitative"}}}
]
}
